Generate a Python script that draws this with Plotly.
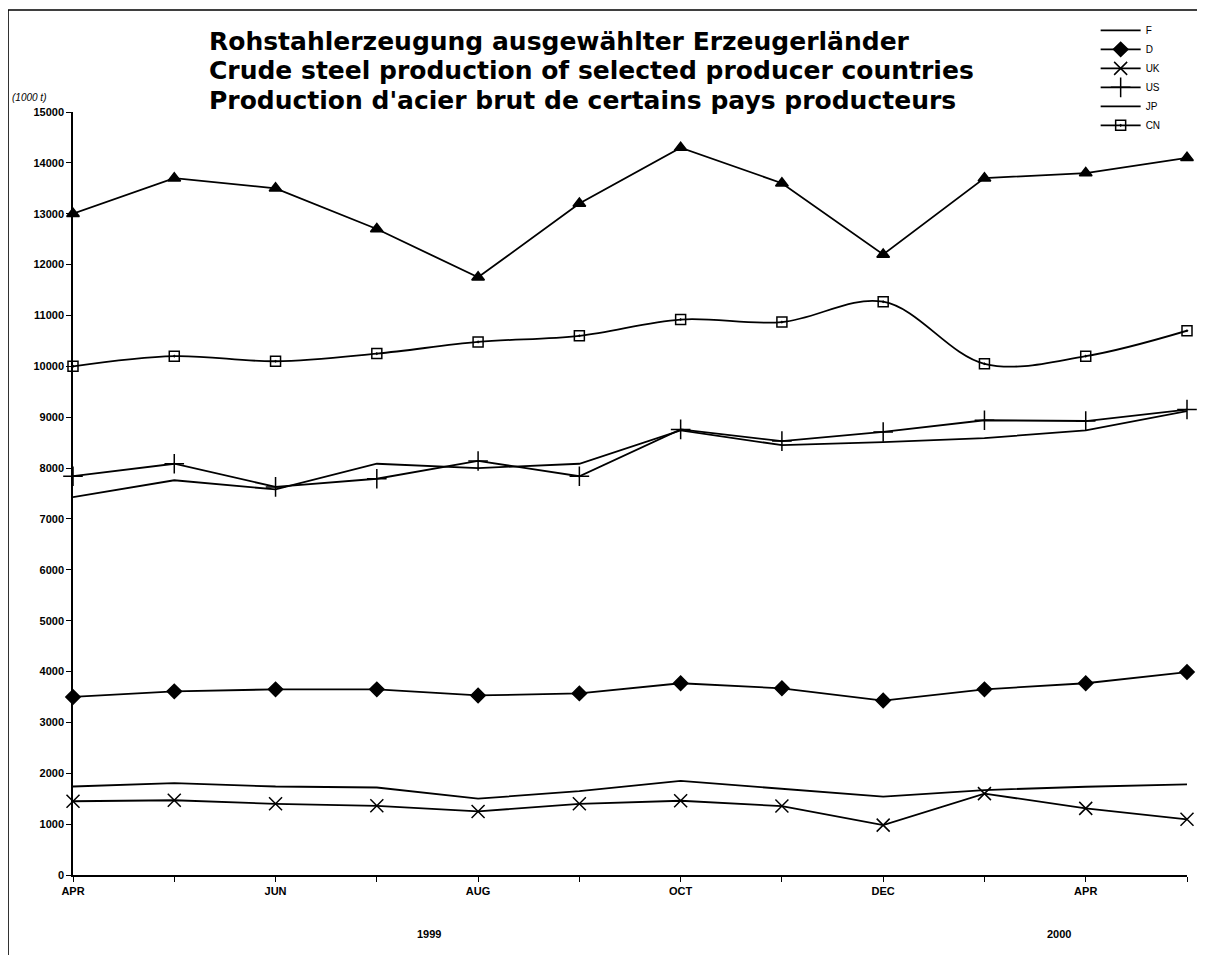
import plotly.graph_objects as go

# ---- data (1000 t) ----
tick_labels = ["APR", "", "JUN", "", "AUG", "", "OCT", "", "DEC", "", "APR", ""]
year_labels = ["1999", "2000"]
year_pos = [3.52, 9.74]

top_series = [13000, 13700, 13500, 12700, 11750, 13200, 14300, 13600, 12200, 13700, 13800, 14100]
CN = [10000, 10200, 10100, 10250, 10480, 10600, 10920, 10870, 11270, 10050, 10200, 10700]
US = [7840, 8085, 7630, 7790, 8140, 7840, 8760, 8530, 8710, 8940, 8925, 9150]
JP = [7430, 7760, 7580, 8085, 8000, 8085, 8740, 8450, 8510, 8590, 8740, 9120]
D = [3500, 3610, 3650, 3650, 3530, 3570, 3770, 3670, 3430, 3650, 3770, 3990]
F = [1740, 1805, 1740, 1720, 1500, 1650, 1850, 1690, 1540, 1670, 1735, 1780]
UK = [1450, 1470, 1400, 1360, 1250, 1400, 1460, 1355, 980, 1600, 1310, 1095]

x = list(range(len(tick_labels)))
FONT = "Liberation Sans"
TFONT = "DejaVu Sans"
BLK = "black"

fig = go.Figure()

def add(name, y, symbol=None, size=10, shape="linear", show=True, mcolor=BLK, lw=1.8):
    mode = "lines+markers" if symbol else "lines"
    kw = dict(x=x, y=y, name=name, mode=mode, showlegend=show, cliponaxis=False,
              line=dict(color=BLK, width=lw, shape=shape))
    if symbol:
        kw["marker"] = dict(symbol=symbol, size=size, color=mcolor,
                            line=dict(color=BLK, width=1.5))
    fig.add_trace(go.Scatter(**kw))

add("F", F)
add("D", D, symbol="diamond", size=11)
add("UK", UK, symbol="x-thin", size=13)
add("US", US, symbol="cross-thin", size=14)
add("JP", JP)
add("CN", CN, symbol="square-open-dot", size=10, shape="spline")
add("EU", top_series, symbol="triangle-up", size=11, show=False)

annotations = [
    dict(text="Rohstahlerzeugung ausgewählter Erzeugerländer", x=0.12, y=1.093),
    dict(text="Crude steel production of selected producer countries", x=0.12, y=1.054),
    dict(text="Production d'acier brut de certains pays producteurs", x=0.12, y=1.015),
]
for a in annotations:
    a.update(xref="paper", yref="paper", xanchor="left", yanchor="middle",
             showarrow=False, font=dict(family=TFONT, size=25, color=BLK, weight="bold"))

annotations.append(dict(text="<i>(1000 t)</i>", x=-0.0566, y=1.0195, xref="paper", yref="paper",
                        xanchor="left", yanchor="middle", showarrow=False,
                        font=dict(family=FONT, size=10, color=BLK)))
for lbl, pos in zip(year_labels, year_pos):
    annotations.append(dict(text="<b>%s</b>" % lbl, x=pos, y=-0.077, xref="x", yref="paper",
                            xanchor="center", yanchor="middle", showarrow=False,
                            font=dict(family=FONT, size=11, color=BLK)))

fig.update_layout(
    width=1205, height=955,
    margin=dict(l=65, r=26, t=104, b=88, autoexpand=False),
    paper_bgcolor="white", plot_bgcolor="white",
    font=dict(family=FONT, color=BLK),
    annotations=annotations,
    legend=dict(x=0.918, y=1.126, xanchor="left", yanchor="top",
                bgcolor="rgba(0,0,0,0)", font=dict(family=FONT, size=10, color=BLK),
                tracegroupgap=0, itemwidth=40),
    shapes=[dict(type="rect", xref="paper", yref="paper", x0=-0.0583, x1=1.05,
                 y0=-0.2, y1=1.1337, line=dict(color=BLK, width=1.5))],
)
fig.update_xaxes(range=[0, 11], tickvals=x, ticktext=tick_labels, showgrid=False,
                 zeroline=False, showline=True, linecolor=BLK, linewidth=1.5,
                 ticks="outside", ticklen=5, tickcolor=BLK,
                 tickfont=dict(family=FONT, size=11, color=BLK, weight="bold"))
fig.update_yaxes(range=[0, 15000], dtick=1000, tickformat="d", showgrid=False,
                 zeroline=False, showline=True, linecolor=BLK, linewidth=1.5,
                 ticks="outside", ticklen=5, tickcolor=BLK,
                 tickfont=dict(family=FONT, size=11, color=BLK, weight="bold"))

fig.write_html("out.html")
